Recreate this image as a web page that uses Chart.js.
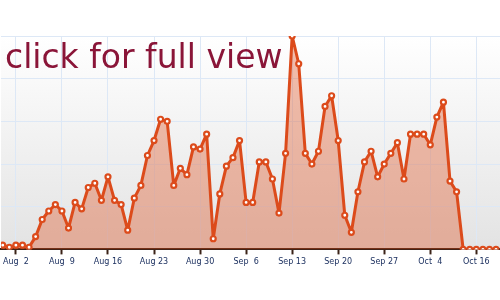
<!DOCTYPE html>
<html>
<head>
<meta charset="utf-8">
<script src="https://cdn.jsdelivr.net/npm/chart.js@4.4.1/dist/chart.umd.min.js"></script>
<style>
  html, body { margin: 0; padding: 0; background: #fff; }
  #wrap { width: 500px; height: 300px; position: relative; }
</style>
</head>
<body>
<div id="wrap"><canvas id="chartVisitas"></canvas></div>
<script>
// daily values, Jul 31 (index 0) to Oct 14 (index 75), scaled so the peak = 100
const visitas = [
  2, 1, 2, 2, 1, 6, 14, 18, 21, 18,
  10, 22, 19, 29, 31, 23, 34, 23, 21, 9,
  24, 30, 44, 51, 61, 60, 30, 38, 35, 48,
  47, 54, 5, 26, 39, 43, 51, 22, 22, 41,
  41, 33, 17, 45, 100, 87, 45, 40, 46, 67,
  72, 51, 16, 8, 27, 41, 46, 34, 40, 45,
  50, 33, 54, 54, 54, 49, 62, 69, 32, 27,
  0, 0, 0, 0, 0, 0
];

// where the x ticks sit (day index) and what they read
const tickDays = [2, 9, 16, 23, 30, 37, 44, 51, 58, 65, 72];
const tickLabels = ['Aug  2', 'Aug  9', 'Aug 16', 'Aug 23', 'Aug 30', 'Sep  6', 'Sep 13', 'Sep 20', 'Sep 27', 'Oct  4', 'Oct 16'];

const titleText = 'click for full view';

// fundo: branco em cima, degradê cinza na área do gráfico
const bgPlugin = {
    id: 'bg',
    beforeDraw(chart) {
        const { ctx, chartArea: a } = chart;
        ctx.save();
        ctx.fillStyle = '#ffffff';
        ctx.fillRect(0, 0, chart.width, chart.height);
        const g = ctx.createLinearGradient(0, a.top, 0, a.bottom);
        g.addColorStop(0, '#ffffff');
        g.addColorStop(1, '#e3e3e3');
        ctx.fillStyle = g;
        ctx.fillRect(a.left, a.top, a.right - a.left, a.bottom - a.top);
        ctx.restore();
    }
};

// texto "click for full view" por cima de tudo
const titlePlugin = {
    id: 'bigTitle',
    afterDraw(chart) {
        const ctx = chart.ctx;
        ctx.save();
        ctx.font = '33px "DejaVu Sans"';
        ctx.fillStyle = '#8a1538';
        ctx.textBaseline = 'alphabetic';
        ctx.fillText(titleText, 5, 68);
        ctx.restore();
    }
};

const ctx = document.getElementById('chartVisitas').getContext('2d');
new Chart(ctx, {
    type: 'line',
    data: {
        datasets: [{
            data: visitas.map((v, i) => ({ x: i, y: v })),
            borderColor: '#dc4b1b',
            borderWidth: 3,
            borderJoinStyle: 'round',
            borderCapStyle: 'round',
            backgroundColor: 'rgba(221,75,26,0.36)',
            fill: 'origin',
            tension: 0,
            pointRadius: 2.5,
            pointBorderWidth: 2.2,
            pointBorderColor: '#dc4b1b',
            pointBackgroundColor: '#ffffff'
        }]
    },
    options: {
        responsive: true,
        maintainAspectRatio: false,
        animation: false,
        layout: { autoPadding: false, padding: { top: 36, left: 0, right: 0, bottom: 30 } },
        plugins: {
            legend: { display: false },
            tooltip: { enabled: false }
        },
        scales: {
            x: {
                type: 'linear',
                min: -0.26,
                max: 75.6,
                afterBuildTicks: axis => {
                    axis.ticks = tickDays.map(v => ({ value: v }));
                },
                ticks: {
                    autoSkip: false,
                    maxRotation: 0,
                    padding: 3,
                    color: '#1d3160',
                    font: { family: 'DejaVu Sans', size: 8 },
                    callback: v => tickLabels[tickDays.indexOf(v)]
                },
                grid: {
                    color: '#dde8f6',
                    tickColor: '#3a2217',
                    tickWidth: 2,
                    tickLength: 5
                },
                border: { display: true, color: '#3a2217', width: 2 }
            },
            y: {
                min: 0,
                max: 100,
                ticks: { display: false, stepSize: 20 },
                grid: { color: '#dde8f6', drawTicks: false },
                border: { display: false }
            }
        }
    },
    plugins: [bgPlugin, titlePlugin]
});
</script>
</body>
</html>
